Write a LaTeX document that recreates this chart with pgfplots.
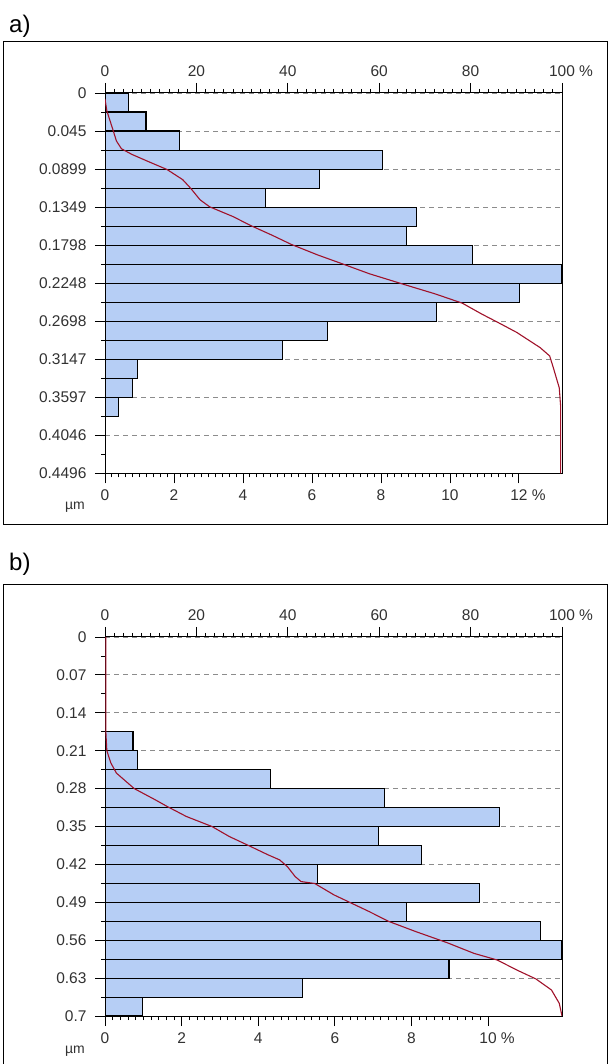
\documentclass[border=0pt]{standalone}
\usepackage{pgfplots}
\pgfplotsset{compat=1.18}
\usepackage{fontspec}
\setmainfont{Liberation Sans}
\definecolor{barblue}{RGB}{182,206,245}
\definecolor{curvered}{RGB}{160,18,42}
\definecolor{txt}{RGB}{50,50,50}

\pgfplotsset{
  hist/.style={
    scale only axis, width=457pt,
    ymin=0, y dir=reverse,
    tick align=outside,
    major tick length=10pt, minor tick length=4pt,
    every tick/.style={black, line width=0.8pt},
    axis line style={black, line width=1pt},
    tick label style={font=\fontsize{15.5}{15.5}\selectfont, text=txt},
    xticklabel shift=3pt, yticklabel shift=5pt,
    xtick pos=bottom, ytick pos=left,
    minor x tick num=9, minor y tick num=1,
    ymajorgrids,
    major y grid style={gray!90, dash pattern=on 5pt off 4pt, line width=0.9pt},
  },
  cum/.style={
    scale only axis, width=457pt,
    ymin=0, y dir=reverse,
    xmin=0, xmax=100,
    tick align=outside,
    major tick length=10pt, minor tick length=4pt,
    every tick/.style={black, line width=0.8pt},
    axis line style={black, line width=1pt},
    tick label style={font=\fontsize{15.5}{15.5}\selectfont, text=txt},
    xticklabel shift=3pt,
    xtick pos=top, ytick=\empty,
    xtick={0,20,40,60,80,100},
    xticklabels={0,20,40,60,80,{100\rlap{ \%}}},
    minor x tick num=9,
  },
}

\begin{document}
\begin{tikzpicture}
\useasboundingbox (0pt,0pt) rectangle (609pt,1064pt);

% ---------------- panel a ----------------
\node[anchor=base west, inner sep=0pt, font=\fontsize{24}{24}\selectfont] at (9pt,1031pt) {a)};
\draw[line width=1pt] (3.5pt,1022pt) rectangle (607.5pt,539.5pt);

\begin{axis}[hist, at={(105pt,590.5pt)}, anchor=south west, height=380.5pt,
  xmin=0, xmax=13.25, ymax=0.4496,
  xtick={0,2,4,6,8,10,12},
  xticklabels={0,2,4,6,8,10,{12\rlap{ \%}}},
  ytick={0,0.04496,0.08992,0.13488,0.17984,0.2248,0.26976,0.31472,0.35968,0.40464,0.4496},
  yticklabels={0,0.045,0.0899,0.1349,0.1798,0.2248,0.2698,0.3147,0.3597,0.4046,0.4496},
]
\addplot[xbar interval, fill=barblue, draw=black, line width=1.1pt] coordinates {
(0.68,0) (1.19,0.02248) (2.17,0.04496) (8.05,0.06744) (6.22,0.08992)
(4.65,0.1124) (9.03,0.13488) (8.74,0.15736) (10.65,0.17984) (13.25,0.20232)
(12.03,0.2248) (9.62,0.24728) (6.45,0.26976) (5.15,0.29224) (0.93,0.31472)
(0.80,0.3372) (0.39,0.35968) (0,0.38216) (0,0.40464) (0,0.42712) (0,0.4496)
};
\end{axis}
\begin{axis}[cum, at={(105pt,590.5pt)}, anchor=south west, height=380.5pt, ymax=0.4496]
\addplot[curvered, line width=1.1pt, no marks] coordinates {
(0,0.0071) (0.4,0.021) (1.7,0.0429) (2.5,0.0567) (3.6,0.0659) (5.9,0.0726)
(9.3,0.0806) (13.6,0.0905) (17.0,0.1024) (18.7,0.1123) (20.8,0.1262)
(22.9,0.1345) (28.0,0.146) (31.9,0.1567) (36.5,0.1679) (40.8,0.179)
(46.7,0.1917) (51.8,0.2016) (57.8,0.2135) (65.4,0.2262) (72.2,0.2373)
(78.2,0.2484) (82.4,0.2611) (85.8,0.2706) (90.1,0.2829) (91.8,0.2889)
(95.2,0.3008) (97.3,0.3107) (98.1,0.3246) (99.4,0.3484) (99.7,0.37) (99.7,0.4496)
};
\end{axis}
\node[font=\fontsize{14}{14}\selectfont, text=txt] at (75pt,557pt) {µm};

% ---------------- panel b ----------------
\node[anchor=base west, inner sep=0pt, font=\fontsize{24}{24}\selectfont] at (9pt,493pt) {b)};
\draw[line width=1pt] (3.5pt,-2pt) -- (3.5pt,479pt) -- (607.5pt,479pt) -- (607.5pt,-2pt);

\begin{axis}[hist, at={(105pt,48pt)}, anchor=south west, height=379pt,
  xmin=0, xmax=11.93, ymax=0.7,
  xtick={0,2,4,6,8,10},
  xticklabels={0,2,4,6,8,{10\rlap{ \%}}},
  ytick={0,0.07,0.14,0.21,0.28,0.35,0.42,0.49,0.56,0.63,0.7},
  yticklabels={0,0.07,0.14,0.21,0.28,0.35,0.42,0.49,0.56,0.63,0.7},
]
\addplot[xbar interval, fill=barblue, draw=black, line width=1.1pt] coordinates {
(0,0) (0,0.035) (0,0.07) (0,0.105) (0,0.14)
(0.73,0.175) (0.84,0.21) (4.33,0.245) (7.29,0.28) (10.30,0.315)
(7.14,0.35) (8.26,0.385) (5.55,0.42) (9.78,0.455) (7.86,0.49)
(11.37,0.525) (11.93,0.56) (8.98,0.595) (5.16,0.63) (0.98,0.665) (0,0.7)
};
\end{axis}
\begin{axis}[cum, at={(105pt,48pt)}, anchor=south west, height=379pt, ymax=0.7]
\addplot[curvered, line width=1.1pt, no marks] coordinates {
(0.2,0) (0.2,0.1775) (0.4,0.21) (1.3,0.233) (2.5,0.2514) (6.4,0.28)
(11.0,0.3007) (13.6,0.313) (17.8,0.3315) (23.4,0.35) (27.2,0.3685)
(31.4,0.3851) (35.7,0.4024) (38.2,0.4116) (39.9,0.424) (41.6,0.4424)
(42.9,0.4517) (45.9,0.4553) (50.1,0.4763) (53.5,0.4899) (57.8,0.5071)
(62.0,0.525) (68.0,0.5441) (74.8,0.5644) (80.7,0.5842) (85.8,0.5965)
(90.1,0.615) (94.3,0.6316) (97.7,0.652) (99.4,0.6766) (100,0.7)
};
\end{axis}
\node[font=\fontsize{14}{14}\selectfont, text=txt] at (75pt,13pt) {µm};
\end{tikzpicture}
\end{document}
